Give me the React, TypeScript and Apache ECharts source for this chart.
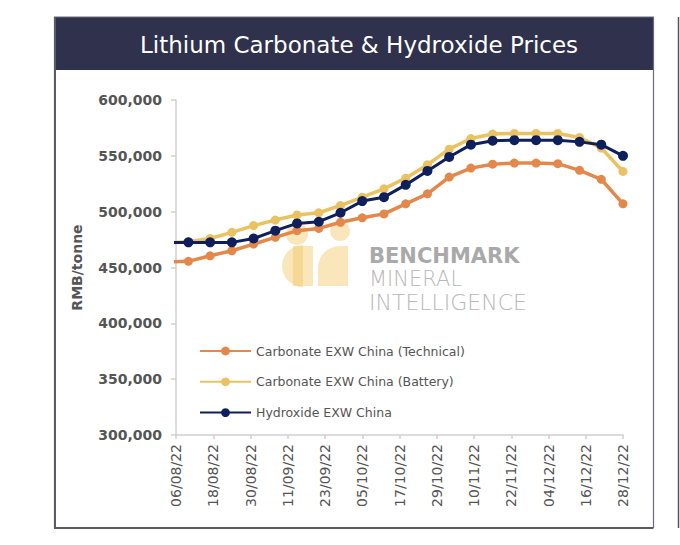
import React, { useEffect, useRef } from "react";
import * as echarts from "echarts";

// Weekly observation dates (dd/mm/yy); the first one lies before the axis start and is clipped
const dates = [
  "03/08/22", "10/08/22", "17/08/22", "24/08/22", "31/08/22", "07/09/22", "14/09/22",
  "21/09/22", "28/09/22", "05/10/22", "12/10/22", "19/10/22", "26/10/22", "02/11/22",
  "09/11/22", "16/11/22", "23/11/22", "30/11/22", "07/12/22", "14/12/22", "21/12/22", "28/12/22",
];

const carbonateTechnical = [
  455000, 455500, 460500, 465000, 471000, 477000, 483000, 485000, 490500, 494500, 498000,
  507000, 516000, 531000, 539000, 542500, 543500, 543500, 543000, 537000, 529000, 507000,
];
const carbonateBattery = [
  472000, 473000, 476000, 481500, 487500, 492500, 497000, 499000, 505500, 513000, 520500,
  530000, 542000, 556000, 565500, 569500, 570000, 570000, 570000, 566500, 557000, 536000,
];
const hydroxide = [
  472500, 472500, 472500, 472500, 476000, 483000, 489500, 491000, 499000, 509500, 513000,
  524000, 536500, 549000, 560000, 563500, 564000, 564000, 564000, 562500, 560000, 550000,
];

const seriesNames = [
  "Carbonate EXW China (Technical)",
  "Carbonate EXW China (Battery)",
  "Hydroxide EXW China",
];

const axisStart = "06/08/22";
const axisEnd = "28/12/22";
const tickDays = 12;

const DAY = 86400000;
function parseDate(s: string): number {
  const [d, m, y] = s.split("/").map((v) => parseInt(v, 10));
  return Date.UTC(2000 + y, m - 1, d);
}
const base = parseDate(axisStart);
const toOffset = (s: string) => Math.round((parseDate(s) - base) / DAY);
const endOffset = toOffset(axisEnd);

function fmtDate(off: number): string {
  const dt = new Date(base + off * DAY);
  const dd = String(dt.getUTCDate()).padStart(2, "0");
  const mm = String(dt.getUTCMonth() + 1).padStart(2, "0");
  const yy = String(dt.getUTCFullYear() % 100).padStart(2, "0");
  return `${dd}/${mm}/${yy}`;
}
function fmtNum(v: number): string {
  return String(Math.round(v)).replace(/\B(?=(\d{3})+(?!\d))/g, ",");
}

const FONT = '"DejaVu Sans", sans-serif';

export default function App() {
  const ref = useRef<HTMLDivElement>(null);

  useEffect(() => {
    if (!ref.current) return;
    const chart = echarts.init(ref.current, undefined, { renderer: "svg" });
    const pair = (vals: number[]) => dates.map((d, i) => [toOffset(d), vals[i]]);
    const colors = ["#E3884A", "#EBC262", "#0E1F5B"];
    const logoFill = "rgba(242, 200, 105, 0.45)";

    chart.setOption({
      animation: false,
      backgroundColor: "#ffffff",
      title: {
        text: "Lithium Carbonate & Hydroxide Prices",
        left: 354,
        top: 28,
        textAlign: "center",
        textStyle: { color: "#ffffff", fontFamily: FONT, fontSize: 23, fontWeight: "normal" },
      },
      graphic: [
        { type: "rect", shape: { x: 54, y: 17, width: 599, height: 53 }, style: { fill: "#30314C" }, z: -10 },
        { type: "rect", shape: { x: 54.5, y: 17, width: 599, height: 511 }, style: { fill: "none", stroke: "#6A6A78", lineWidth: 1.2 }, z: -9 },
        { type: "line", shape: { x1: 55, y1: 17, x2: 55, y2: 528.5 }, style: { stroke: "#5A5A66", lineWidth: 2 }, z: -9 },
        { type: "line", shape: { x1: 54, y1: 528, x2: 653, y2: 528 }, style: { stroke: "#5A5A66", lineWidth: 2 }, z: -9 },
        { type: "line", shape: { x1: 678.5, y1: 17, x2: 678.5, y2: 528 }, style: { stroke: "#55555F", lineWidth: 1.5 }, z: -9 },
        // watermark logo
        { type: "circle", shape: { cx: 297, cy: 234, r: 11 }, style: { fill: logoFill }, z: -5 },
        { type: "circle", shape: { cx: 340, cy: 231, r: 10 }, style: { fill: logoFill }, z: -5 },
        { type: "sector", shape: { cx: 303, cy: 266, r0: 0, r: 21, startAngle: Math.PI / 2, endAngle: (Math.PI * 3) / 2 }, style: { fill: logoFill }, z: -5 },
        { type: "rect", shape: { x: 293, y: 246, width: 20, height: 40 }, style: { fill: logoFill }, z: -5 },
        { type: "rect", shape: { x: 318, y: 246, width: 30, height: 40, r: [22, 0, 0, 0] }, style: { fill: logoFill }, z: -5 },
        { type: "text", x: 369, y: 245, style: { text: "BENCHMARK", fill: "#A9A9A9", fontFamily: FONT, fontSize: 21, fontWeight: "bold" }, z: -5 },
        { type: "text", x: 369, y: 268, style: { text: "MINERAL", fill: "#B8B8B8", fontFamily: FONT, fontSize: 21, fontWeight: 200 }, z: -5 },
        { type: "text", x: 369, y: 291, style: { text: "INTELLIGENCE", fill: "#B8B8B8", fontFamily: FONT, fontSize: 22, fontWeight: 200 }, z: -5 },
      ],
      legend: {
        orient: "vertical",
        left: 199,
        top: 343,
        padding: 0,
        itemWidth: 51,
        itemHeight: 11,
        itemGap: 14.8,
        data: seriesNames,
        textStyle: { color: "#555555", fontFamily: FONT, fontSize: 12.5, lineHeight: 16 },
      },
      grid: { left: 176, top: 100, right: 57, bottom: 110, containLabel: false },
      xAxis: {
        type: "value",
        min: 0,
        max: endOffset,
        interval: tickDays,
        axisLine: { show: true, lineStyle: { color: "#D0D0D0", width: 1.5 } },
        axisTick: { show: true, length: 4, lineStyle: { color: "#D0D0D0", width: 1.5 } },
        splitLine: { show: false },
        axisLabel: {
          rotate: 90,
          margin: 9,
          color: "#555555",
          fontFamily: FONT,
          fontSize: 14,
          formatter: (v: number) => fmtDate(v),
        },
      },
      yAxis: {
        type: "value",
        min: 300000,
        max: 600000,
        interval: 50000,
        name: "RMB/tonne",
        nameLocation: "middle",
        nameRotate: 90,
        nameGap: 92,
        nameTextStyle: { color: "#555555", fontFamily: FONT, fontSize: 14, fontWeight: "bold" },
        axisLine: { show: true, lineStyle: { color: "#D0D0D0", width: 1.5 } },
        axisTick: { show: true, length: 5, lineStyle: { color: "#D0D0D0", width: 1.5 } },
        splitLine: { show: false },
        axisLabel: {
          margin: 14,
          color: "#555555",
          fontFamily: FONT,
          fontSize: 14,
          fontWeight: "bold",
          formatter: (v: number) => fmtNum(v),
        },
      },
      series: [
        {
          name: seriesNames[0],
          type: "line",
          data: pair(carbonateTechnical),
          symbol: "circle",
          symbolSize: 9,
          color: colors[0],
          lineStyle: { width: 3.5, color: colors[0] },
          itemStyle: { color: colors[0] },
          clip: true,
          z: 2,
        },
        {
          name: seriesNames[1],
          type: "line",
          data: pair(carbonateBattery),
          symbol: "circle",
          symbolSize: 9,
          color: colors[1],
          lineStyle: { width: 3.5, color: colors[1] },
          itemStyle: { color: colors[1] },
          clip: true,
          z: 3,
        },
        {
          name: seriesNames[2],
          type: "line",
          data: pair(hydroxide),
          symbol: "circle",
          symbolSize: 10,
          color: colors[2],
          lineStyle: { width: 3, color: colors[2] },
          itemStyle: { color: colors[2] },
          clip: true,
          z: 4,
        },
      ],
    });
    return () => chart.dispose();
  }, []);

  return (
    <div
      ref={ref}
      style={{ position: "absolute", left: 0, top: 0, width: 680, height: 545 }}
    />
  );
}
